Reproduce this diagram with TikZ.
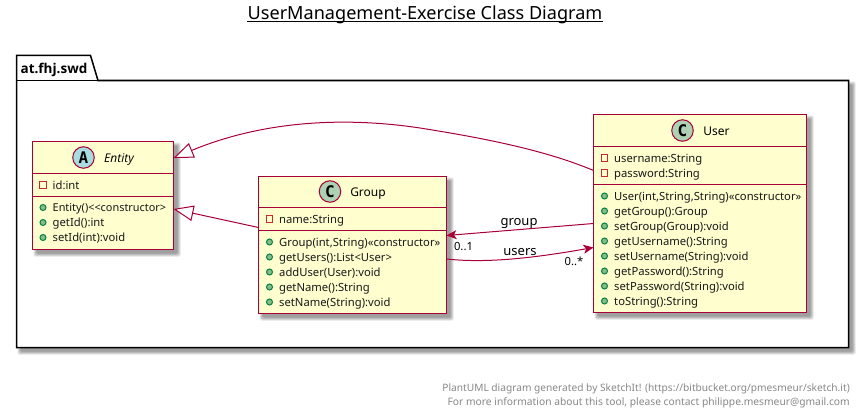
\documentclass[tikz,border=0pt]{standalone}
\usepackage{fontspec}
\setmainfont{Noto Sans}
\newfontfamily\spotfont{DejaVu Sans Mono}
\newfontfamily\pkgfont{Open Sans}
\newfontfamily\itfont{Open Sans}
\usetikzlibrary{arrows.meta}
\definecolor{umlred}{HTML}{A80036}
\definecolor{umlfill}{HTML}{FEFECE}
\definecolor{spotc}{HTML}{ADD1B2}
\definecolor{spota}{HTML}{A9DCDF}
\definecolor{privred}{HTML}{C82930}
\definecolor{pubfill}{HTML}{84BE84}
\definecolor{publine}{HTML}{038048}
\definecolor{footgray}{HTML}{888888}
\tikzset{
  x=1pt,y=-1pt,
  classbox/.style={draw=umlred,fill=umlfill,line width=1.4pt,anchor=north west,inner sep=0pt,outer sep=0pt},
  divider/.style={draw=umlred,line width=1.4pt},
  spot/.style={circle,draw=umlred,line width=1pt,minimum size=21.5pt,inner sep=0pt},
  spotletter/.style={font=\spotfont\bfseries\fontsize{16}{16}\selectfont,inner sep=0pt,text=black},
  classtitle/.style={font=\fontsize{12}{14}\selectfont,inner sep=0pt,anchor=center,text height=9pt,text depth=0pt},
  membertext/.style={font=\fontsize{11.25}{13}\selectfont,inner sep=0pt,anchor=west,text=black!90,text height=9pt,text depth=0.4pt},
  privmark/.style={draw=privred,line width=1pt,minimum size=6.5pt,inner sep=0pt,rectangle},
  pubmark/.style={circle,draw=publine,fill=pubfill,line width=1pt,minimum size=6pt,inner sep=0pt},
  link/.style={draw=umlred,line width=1pt},
  extends/.style={link,-{Triangle[open,length=20pt,width=15.6pt,fill=white]}},
  assoc/.style={link,-{Stealth[length=10pt,width=9pt,inset=2.5pt]}},
  linklabel/.style={font=\fontsize{13}{15}\selectfont,inner sep=0pt,text=black,text height=9pt,text depth=0pt},
  multlabel/.style={font=\fontsize{11.25}{13}\selectfont,inner sep=0pt,text=black,text height=9pt,text depth=0pt},
  foot/.style={font=\fontsize{10.17}{12}\selectfont,inner sep=0pt,anchor=east,text=footgray,text height=8pt,text depth=0pt},
}
\newcount\mcount
\newcommand{\softshadow}[4]{%
  \foreach \g in {3.0,2.0,1.0,0}{%
    \fill[black,opacity=0.11,rounded corners=1.5pt] (#1+4-\g,#2+4-\g) rectangle (#3+4+\g,#4+4+\g);
  }%
}
\newcommand{\privline}[3]{%
  \global\advance\mcount by 1
  \node[privmark] (pm\the\mcount) at (#1,#2) {};
  \node[membertext] (pt\the\mcount) at (#1+9.5,#2) {#3};
}
\newcommand{\publine}[3]{%
  \global\advance\mcount by 1
  \node[pubmark] (um\the\mcount) at (#1,#2) {};
  \node[membertext] (ut\the\mcount) at (#1+9.5,#2) {#3};
}
\begin{document}
\begin{tikzpicture}
\useasboundingbox (0,0) rectangle (862,412);
\fill[white] (0,0) rectangle (862,412);

% title
\node[inner sep=0pt,font=\fontsize{18.1}{20}\selectfont,text height=14pt,text depth=0pt] (title) at (425,13) {UserManagement-Exercise Class Diagram};
\draw[black,line width=1pt] (title.south west) ++(0,1.5) -- ([yshift=-1.5pt]title.south east);

% package
\softshadow{16.5}{80.5}{848.5}{347.5}
\fill[white,draw=black,line width=1.5pt] (16.5,80.5) -- (16.5,55.5) -- (90.5,55.5) -- (98,80.5) -- (848.5,80.5) -- (848.5,347.5) -- (16.5,347.5) -- cycle;
\draw[black,line width=1.5pt] (16.5,80.5) -- (98,80.5);
\node[inner sep=0pt,font=\pkgfont\bfseries\fontsize{13.5}{15}\selectfont,text height=9pt,text depth=0pt] (pkg) at (54,68.8) {at.fhj.swd};

% Entity
\softshadow{32.5}{141.5}{173.5}{249.5}
\node[classbox,minimum width=141pt,minimum height=108pt] (entity) at (32.5,141.5) {};
\draw[divider] (32.5,173.5) -- (173.5,173.5);
\draw[divider] (32.5,196.5) -- (173.5,196.5);
\node[spot,fill=spota] (entitys) at (83.5,157.5) {};
\node[spotletter] (entityl) at (83.5,157.5) {A};
\node[classtitle,font=\itfont\itshape\fontsize{12}{14}\selectfont] (entityt) at (119,157.5) {Entity};
\privline{43}{185}{id:int}
\publine{43}{207.5}{\fontsize{10.9}{13}\selectfont Entity()<{}<constructor>}
\publine{43}{222.5}{getId():int}
\publine{43}{237.5}{setId(int):void}

% Group
\softshadow{258.5}{176.5}{446.5}{313.5}
\node[classbox,minimum width=188pt,minimum height=137pt] (group) at (258.5,176.5) {};
\draw[divider] (258.5,207.5) -- (446.5,207.5);
\draw[divider] (258.5,230.5) -- (446.5,230.5);
\node[spot,fill=spotc] (groups) at (330,191.5) {};
\node[spotletter] (groupl) at (330,191.5) {C};
\node[classtitle] (groupt) at (368,191.5) {Group};
\privline{269.5}{219}{name:String}
\publine{269.5}{242}{Group(int,String)«constructor»}
\publine{269.5}{257}{getUsers():List<User>}
\publine{269.5}{272}{addUser(User):void}
\publine{269.5}{287}{getName():String}
\publine{269.5}{302}{setName(String):void}

% User
\softshadow{593.5}{114.5}{806.5}{312.5}
\node[classbox,minimum width=213pt,minimum height=198pt] (user) at (593.5,114.5) {};
\draw[divider] (593.5,146.5) -- (806.5,146.5);
\draw[divider] (593.5,184.5) -- (806.5,184.5);
\node[spot,fill=spotc] (users) at (682.5,130.5) {};
\node[spotletter] (userl) at (682.5,130.5) {C};
\node[classtitle] (usert) at (716.5,130.5) {User};
\privline{604.5}{158}{username:String}
\privline{604.5}{173}{password:String}
\publine{604.5}{196}{User(int,String,String)«constructor»}
\publine{604.5}{211}{getGroup():Group}
\publine{604.5}{226}{setGroup(Group):void}
\publine{604.5}{241}{getUsername():String}
\publine{604.5}{256}{setUsername(String):void}
\publine{604.5}{271}{getPassword():String}
\publine{604.5}{286}{setPassword(String):void}
\publine{604.5}{301}{toString():String}

% connectors
\draw[extends] ([yshift=-56pt]user.north west) .. controls +(-53,-22.5) and (470,136) .. (420,128) .. controls (340,116) and (260,122) .. ([yshift=-16.5pt]entity.north east);
\draw[extends] ([yshift=-51pt]group.north west) -- ([yshift=-67.5pt]entity.north east);
\draw[assoc] ([yshift=-109pt]user.north west) -- ([yshift=-59pt]group.north east);
\draw[assoc] ([yshift=-82.5pt]group.north east) .. controls +(45,5) and (545,256) .. ([yshift=-133pt]user.north west);

\node[linklabel] (lgroup) at (519,220.5) {group};
\node[linklabel] (lusers) at (520,250.5) {users};
\node[multlabel] (m01) at (463.5,246) {0..1};
\node[multlabel] (m0s) at (574,260.5) {0..*};

% footer
\node[foot] (f1) at (850,387.7) {PlantUML diagram generated by SketchIt! (https://bitbucket.org/pmesmeur/sketch.it)};
\node[foot,font=\fontsize{10.27}{12}\selectfont] (f2) at (850,401) {For more information about this tool, please contact philippe.mesmeur@gmail.com};
\end{tikzpicture}
\end{document}
